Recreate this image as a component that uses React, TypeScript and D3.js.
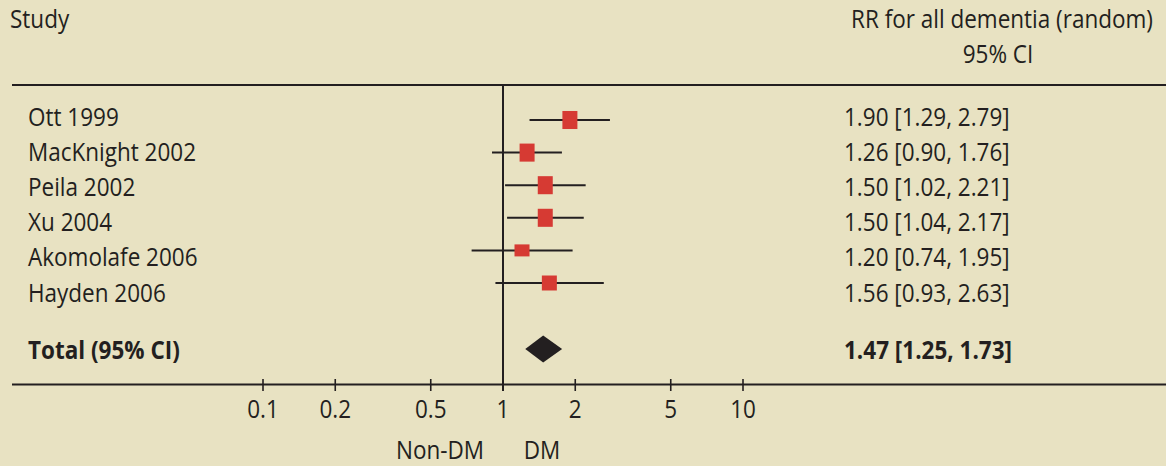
import React from "react";
import * as d3 from "d3";

const studies = ["Ott 1999", "MacKnight 2002", "Peila 2002", "Xu 2004", "Akomolafe 2006", "Hayden 2006"];
const rr = [1.9, 1.26, 1.5, 1.5, 1.2, 1.56];
const lower = [1.29, 0.9, 1.02, 1.04, 0.74, 0.93];
const upper = [2.79, 1.76, 2.21, 2.17, 1.95, 2.63];
const weights = [19.4, 19.4, 19.4, 19.4, 12.9, 16.1];
const ciLabels = [
  "1.90 [1.29, 2.79]",
  "1.26 [0.90, 1.76]",
  "1.50 [1.02, 2.21]",
  "1.50 [1.04, 2.17]",
  "1.20 [0.74, 1.95]",
  "1.56 [0.93, 2.63]",
];
const total = { label: "Total (95% CI)", rr: 1.47, lower: 1.25, upper: 1.73, text: "1.47 [1.25, 1.73]" };
const tickValues = [0.1, 0.2, 0.5, 1, 2, 5, 10];
const tickLabels = ["0.1", "0.2", "0.5", "1", "2", "5", "10"];

const W = 1166;
const H = 466;
const BG = "#e8e2c2";
const INK = "#231f20";
const RED = "#d63a33";
const FONT = "'Open Sans', sans-serif";
const FS = 22.5;
const SY = 1.1;

function T({ x, y, children, anchor = "start", bold = false }: any) {
  return (
    <g transform={`translate(${x},${y}) scale(1,${SY})`}>
      <text x={0} y={0} textAnchor={anchor} fontFamily={FONT} fontSize={FS} fontWeight={bold ? 700 : 400} fill={INK}>
        {children}
      </text>
    </g>
  );
}

export default function App() {
  const x = d3.scaleLog().domain([0.1, 10]).range([263, 743]);
  const yPlot = d3.scalePoint<string>().domain(studies).range([120, 283]);
  const yText = d3.scalePoint<string>().domain(studies).range([125.5, 301.5]);
  const h = d3.scaleLinear().domain([0, 20]).range([0, 18.6]);
  const boxW = 15;
  const totalY = 349;
  const totalText = 359.3;
  const axisY = 384.5;
  const topY = 85;

  const diamond = d3.line()([
    [x(total.lower) - 1, totalY],
    [x(total.rr), totalY - 13.4],
    [x(total.upper) + 2, totalY],
    [x(total.rr), totalY + 13.4],
  ]) + "Z";

  return (
    <svg width={W} height={H} style={{ position: "fixed", left: 0, top: 0, display: "block" }}>
      <rect x={0} y={0} width={W} height={H} fill={BG} />
      <T x={10} y={28.3}>Study</T>
      <T x={1002} y={28.3} anchor="middle">RR for all dementia (random)</T>
      <T x={998} y={63.3} anchor="middle">95% CI</T>

      <line x1={12} x2={W} y1={topY} y2={topY} stroke={INK} strokeWidth={2} />
      <line x1={12} x2={W} y1={axisY} y2={axisY} stroke={INK} strokeWidth={2} />
      <line x1={x(1)} x2={x(1)} y1={topY} y2={391} stroke={INK} strokeWidth={2} />

      {tickValues.map((v, i) => (
        <g key={v}>
          <line x1={x(v)} x2={x(v)} y1={379} y2={391} stroke={INK} strokeWidth={1.6} />
          <T x={x(v)} y={417.5} anchor="middle">{tickLabels[i]}</T>
        </g>
      ))}

      {studies.map((s, i) => {
        const yy = yPlot(s)!;
        const bh = h(weights[i]);
        return (
          <g key={s}>
            <line x1={x(lower[i])} x2={x(upper[i])} y1={yy} y2={yy} stroke={INK} strokeWidth={2} />
            <rect x={x(rr[i]) - boxW / 2} y={yy - bh / 2} width={boxW} height={bh} fill={RED} />
            <T x={28} y={yText(s)!}>{s}</T>
            <T x={844} y={yText(s)!}>{ciLabels[i]}</T>
          </g>
        );
      })}

      <path d={diamond} fill={INK} />
      <T x={28} y={totalText} bold>{total.label}</T>
      <T x={844} y={totalText} bold>{total.text}</T>

      <T x={440} y={459} anchor="middle">Non-DM</T>
      <T x={542} y={459} anchor="middle">DM</T>
    </svg>
  );
}
